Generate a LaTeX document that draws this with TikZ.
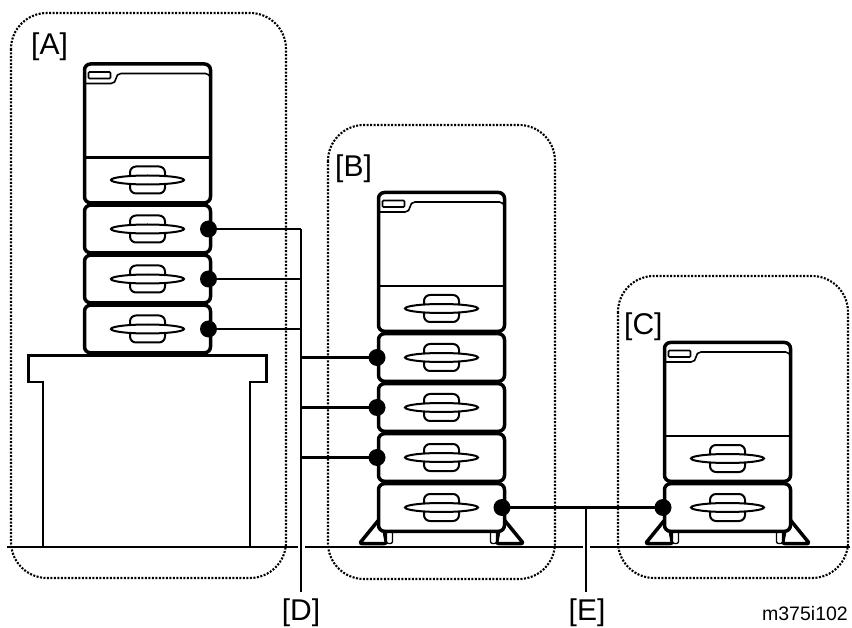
\documentclass[tikz,border=0pt]{standalone}
\usepackage{fontspec}
\setmainfont{Liberation Sans}
\usetikzlibrary{positioning,calc}

% handle on a drawer front, centred at (#1,#2)
\newcommand{\grip}[2]{%
  \begin{scope}[shift={(#1,#2)}]
    \draw[griprim, rounded corners=6pt] (-17.5,-13.5) rectangle (17.5,13.5);
    \draw[griprim, fill=white] (0,0) ellipse [x radius=36.5pt, y radius=4.5pt];
  \end{scope}}

% printer body, top left corner at the scope origin
\newcommand{\mainbody}{%
  \draw[unit] (0,0) rectangle (126,138.8);
  \draw[rim, rounded corners=5pt] (0,19.5) -- (31.5,19.5) -- (31.5,9.5) -- (126,9.5) -- (126,26);
  \draw[rim, rounded corners=1pt] (4,8) rectangle (26,14.5);
  \draw[line width=2.4pt] (0,93.5) -- (126,93.5);
  \grip{63}{116}}

% paper drawer, #1 = its top edge
\newcommand{\drawer}[1]{%
  \draw[unit] (0,#1+1.2) rectangle (126,#1+48.8);
  \grip{63}{#1+25}}

% stand feet and wheels, #1 = floor edge of the caster drawer
\newcommand{\feet}[1]{%
  \draw[unit, rounded corners=2pt, line join=round] (8,#1+11) -- (-19,#1+11) -- (3,#1-16) -- cycle;
  \draw[unit, rounded corners=2pt, line join=round] (118,#1+11) -- (145,#1+11) -- (123,#1-16) -- cycle;
  \draw[wheel] (8,#1-3) rectangle (14,#1+11);
  \draw[wheel] (112,#1-3) rectangle (118,#1+11);}

\begin{document}
\begin{tikzpicture}[x=1pt, y=-1pt,
    unit/.style={line width=3.5pt, rounded corners=6pt, fill=white},
    rim/.style={line width=1.6pt},
    griprim/.style={line width=2pt},
    wheel/.style={line width=1.3pt, rounded corners=2pt, fill=white},
    wire/.style={line width=2.3pt},
    halo/.style={preaction={draw=white, line width=7pt}},
    dot/.style={circle, fill, inner sep=0pt, minimum size=17pt},
    zone/.style={line width=2.1pt, dash pattern=on 2pt off 1.5pt, rounded corners=36pt},
    tag/.style={inner sep=0pt, font=\fontsize{30}{30}\selectfont}]
    \useasboundingbox (0,0) rectangle (852,628);

    % floor
    \draw[line width=2.2pt] (7,547) -- (850,547);

    % table under [A]
    \draw[line width=2.8pt] (43,547) -- (43,382) -- (28.5,382) -- (28.5,355.5)
        -- (266.5,355.5) -- (266.5,382) -- (250,382) -- (250,547);

    % [A] printer with three drawers on the table
    \begin{scope}[shift={(84.5,64)}]
        \mainbody
        \drawer{140}
        \drawer{190}
        \drawer{240}
        \node[dot] (a1) at (124,165) {};
        \node[dot] (a2) at (124,215) {};
        \node[dot] (a3) at (124,265) {};
    \end{scope}

    % [B] printer with three drawers and caster drawer
    \begin{scope}[shift={(378.5,192.5)}]
        \mainbody
        \drawer{140}
        \drawer{190}
        \drawer{240}
        \feet{340}
        \drawer{290}
        \node[dot] (b1) at (-1.5,165) {};
        \node[dot] (b2) at (-1.5,215) {};
        \node[dot] (b3) at (-1.5,265) {};
        \node[dot] (b4) at (123.5,315) {};
    \end{scope}

    % [C] printer on caster drawer
    \begin{scope}[shift={(664.5,342.5)}]
        \mainbody
        \feet{190}
        \drawer{140}
        \node[dot] (c1) at (-1.5,165) {};
    \end{scope}

    % leader lines
    \coordinate (dbus) at (301,592);
    \coordinate (ebus) at (586,592);
    \draw[wire, halo] (a1 -| dbus) -- (dbus);
    \draw[wire, halo] (b4 -| ebus) -- (ebus);
    \foreach \n in {a1,a2,a3,b1,b2,b3}
        \draw[wire] (\n.center) -- (\n -| dbus);
    \draw[wire] (b4.center) -- (c1.center);

    % groups
    \draw[zone] (11,13) rectangle (286,578);
    \draw[zone] (328,125) rectangle (555,579);
    \draw[zone] (618,276) rectangle (848,578);

    \node[tag, anchor=base west] (tagA) at (31,55) {[A]};
    \node[tag, anchor=base west] (tagB) at (335,177) {[B]};
    \node[tag, anchor=base west] (tagC) at (624,335) {[C]};
    \node[tag, anchor=base] (tagD) at (301,620) {[D]};
    \node[tag, anchor=base] (tagE) at (587,620) {[E]};
    \node[inner sep=0pt, anchor=base east, font=\fontsize{19.5}{20}\selectfont] (figid) at (848,620) {m375i102};
\end{tikzpicture}
\end{document}
